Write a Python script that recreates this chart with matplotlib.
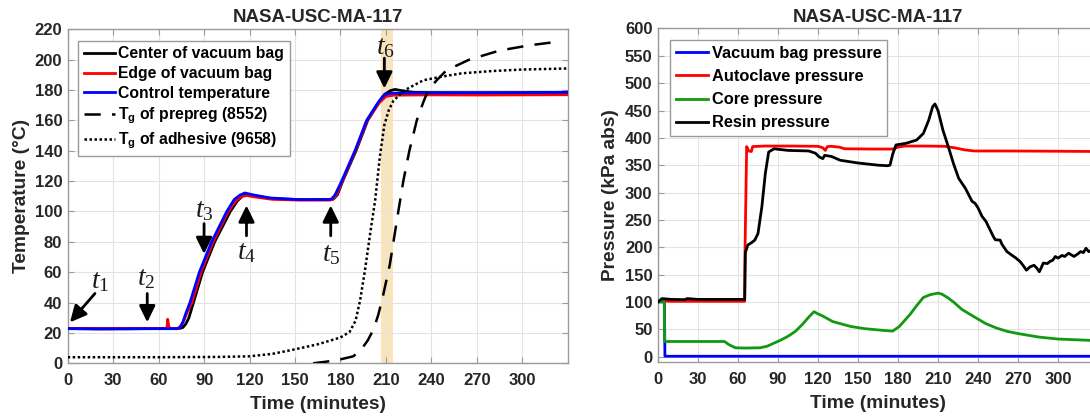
import matplotlib
matplotlib.use('Agg')
import matplotlib.pyplot as plt

# ---------------- data ----------------
title_text = "NASA-USC-MA-117"
xticks = [0, 30, 60, 90, 120, 150, 180, 210, 240, 270, 300]

# Left panel: temperatures (deg C) vs time (min)
control_t = [0, 20, 40, 60, 72, 74, 76, 78, 80.7, 86.9, 95, 105, 110, 113.7, 117, 122, 133.5, 153, 172,
             174.2, 176.5, 180.8, 189.6, 197.3, 205, 208, 210.5, 214, 230, 260, 300, 330]
control_T = [22.8, 22.6, 22.7, 22.8, 22.8, 23.5, 27, 33, 40, 60, 80, 100, 108, 110.8, 112.2, 111, 108.9, 107.8, 107.9,
             108.2, 111, 120, 140, 160, 172, 175.8, 177.4, 177.9, 178.1, 178.2, 178.3, 178.5]

center_t = [0, 20, 40, 60, 74, 76, 78, 80, 83, 89, 97, 107.3, 112, 115.5, 119, 124, 135, 153, 173,
            175.5, 178, 181.5, 190.3, 198, 205.5, 209, 213, 216, 221, 228, 240, 270, 300, 330]
center_T = [23, 22.8, 22.8, 22.9, 23, 23.6, 26, 30, 40, 60, 80, 100, 107, 110.3, 111.3, 110.2, 108.5, 107.8, 107.8,
            108.3, 111, 120, 140, 160, 172, 177, 179.6, 180.4, 179.5, 178.5, 178.3, 178.2, 178.3, 178.5]

edge_t = [0, 20, 40, 60, 65.5, 66, 66.6, 67.3, 73, 75, 77, 79, 82, 88, 96, 106, 111, 114.5, 118, 124, 135, 153, 173,
          175, 177.5, 181.2, 190, 197.7, 205.5, 210, 215, 240, 270, 300, 330]
edge_T = [22.9, 22.7, 22.8, 22.9, 23, 29, 25, 23, 23, 25, 29, 34, 40, 60, 80, 100, 107, 109.8, 110.5, 109.5, 108, 107.5, 107.5,
          108, 111, 120, 140, 160, 171.5, 175.8, 176.6, 176.8, 176.7, 176.8, 176.9]

tg_prepreg_t = [162, 170, 177.5, 188.5, 194, 198, 202, 205, 208, 212.6, 218.2, 221.5, 225.5, 230.4, 234.7, 238,
                243.5, 250, 265, 285, 305, 325]
tg_prepreg_T = [0, 1, 2, 4.6, 9.5, 15, 22.7, 32, 44, 65, 100, 120, 140, 160, 172, 180,
                186.4, 193, 200, 206, 209.5, 212]

tg_adhesive_t = [0, 60, 100, 120, 135, 149, 165, 180, 186, 190, 193, 196, 200, 203, 206, 209, 212, 215,
                 222.6, 234.7, 245.7, 260, 280, 300, 330]
tg_adhesive_T = [4, 4, 4.2, 4.6, 6.2, 9, 12.5, 17, 20.6, 28, 41.5, 60, 88, 108, 136, 157, 167, 173,
                 180, 186.4, 188.6, 191, 192.5, 193.5, 194.2]

cure_band = [206.5, 214.5]

# event markers: label, arrow tail (t, T), arrow tip (t, T), label centre (t, T)
event_labels = ["1", "2", "3", "4", "5", "6"]
event_tail = [(18, 46), (52.5, 46), (90, 92), (118, 84), (173.6, 84), (209, 201)]
event_tip = [(1.5, 27), (52.5, 27), (90, 72), (118, 104), (173.6, 104), (209, 181)]
event_text = [(21.5, 54), (52, 56), (90, 101), (118, 73), (174, 72), (209.5, 208)]

# Right panel: pressures (kPa abs) vs time (min)
vac_t = [0, 4.8, 5.2, 100, 200, 330]
vac_p = [100, 100, 0.5, 0.5, 0.5, 0.5]

auto_t = [3, 10, 30, 50, 65, 65.3, 66.5, 68, 70, 71, 80, 100, 120, 123.5, 125.5, 127, 130, 136, 140, 160, 176,
          180, 185, 200, 215, 222, 230, 237, 260, 300, 330]
auto_p = [101.5, 101, 101, 101, 101, 200, 384, 376, 375, 384, 385, 385, 384.5, 382, 377, 384, 384.5, 383, 380, 379.5, 379.5,
          383, 385, 385, 384.5, 382, 378, 376, 376, 375.5, 375]

core_t = [0, 4.7, 5, 20, 40, 50, 53, 58, 65, 76.6, 82, 87, 92, 97.5, 103, 108, 113, 117, 120, 123.6, 131, 144.5,
          155, 168, 176, 181, 185, 189, 194, 199, 204, 210, 213, 217.7, 222, 228, 238.6, 246, 254, 262, 270, 285.6,
          300, 315, 330]
core_p = [100, 100, 27.5, 27.5, 27.5, 27.5, 22, 16, 15.5, 16, 19, 24.5, 30, 37, 46, 58, 72, 82, 78, 74, 64, 55,
          51, 48, 46.5, 55, 66, 77, 93, 108, 113, 116, 114, 107, 99, 86, 70.5, 60, 52, 46, 42, 35.6,
          32, 30.5, 29]

resin_t = [0, 3, 10, 20, 22, 30, 50, 65, 65.5, 67.4, 70, 72.6, 75, 77.9, 80.5, 83, 87, 97.5, 113, 118, 121, 123.6,
           125, 130, 136.7, 150, 165, 172, 174, 176, 178.5, 186, 194, 199, 203, 206, 207.7, 210, 213.7, 217.7,
           221.6, 225.5, 230.7, 235.5, 237.9, 240, 243, 246, 249, 251.6, 253, 256.6, 258, 261.7, 265, 268, 271.6,
           274, 276.3, 279, 282, 284, 286, 289, 292, 294, 296, 298, 300, 303, 305, 307.9, 310, 312, 315, 317, 319,
           321, 323, 326, 330]
resin_p = [100, 106, 104.5, 104, 106, 104.5, 104.5, 104.5, 190, 204, 208, 213, 225, 274, 335, 374, 380, 377, 376, 372, 365, 362,
           368, 366, 359, 354, 350, 349, 350, 370, 387, 390, 396, 408, 432, 457, 462, 450, 414, 384,
           353, 326, 307, 284, 280, 272, 256.5, 247, 232, 219, 213.6, 213, 205, 192, 186, 181, 173.7,
           166, 158, 164, 167, 162, 155, 171, 170, 174, 176, 183, 180, 185, 183, 189, 186, 183, 188, 192, 190,
           198, 192, 194, 196]

# ---------------- styling ----------------
plt.rcParams['font.family'] = ['Liberation Sans', 'DejaVu Sans']
plt.rcParams['font.weight'] = 'bold'
plt.rcParams['mathtext.fontset'] = 'custom'
plt.rcParams['mathtext.it'] = 'Liberation Serif:italic:normal'
plt.rcParams['mathtext.rm'] = 'Liberation Serif:normal'
plt.rcParams['mathtext.bf'] = 'Liberation Sans:bold'

TXT = '#262626'
SPINE = '#9a9a9a'
GRID = '#e3e3e3'

fig = plt.figure(figsize=(10.9, 4.19), dpi=100)
W, H = 1090.0, 419.0
ax1 = fig.add_axes([67.7 / W, (H - 363.3) / H, 500 / W, 334 / H])
ax2 = fig.add_axes([658 / W, (H - 362) / H, 440 / W, 333.5 / H])


def style(ax):
    ax.grid(True, color=GRID, lw=0.8, zorder=0)
    ax.set_axisbelow(True)
    for s in ax.spines.values():
        s.set_color(SPINE)
        s.set_linewidth(1.0)
    ax.tick_params(direction='in', length=4, width=0.8, color=SPINE, labelcolor=TXT,
                   labelsize=12, top=True, right=True)
    ax.tick_params(axis='x', pad=7)
    ax.tick_params(axis='y', pad=4)
    ax.set_xticks(xticks)
    ax.set_xlim(0, 330)
    ax.set_xlabel("Time (minutes)", fontsize=13.8, fontweight='bold', color=TXT, labelpad=6)
    ax.set_title(title_text, fontsize=13.5, fontweight='bold', color=TXT, pad=5)


# ----- left panel -----
style(ax1)
ax1.set_ylim(0, 220)
ax1.set_yticks(range(0, 221, 20))
ax1.set_ylabel("Temperature (°C)", fontsize=13.8, fontweight='bold', color=TXT, labelpad=3)
ax1.axvspan(cure_band[0], cure_band[1], color='#fbe4b8', lw=0, zorder=0.5)

ax1.plot(center_t, center_T, color='black', lw=2, label='Center of vacuum bag', zorder=3)
ax1.plot(edge_t, edge_T, color='red', lw=2, label='Edge of vacuum bag', zorder=3)
ax1.plot(control_t, control_T, color='blue', lw=2, label='Control temperature', zorder=3)
ax1.plot(tg_prepreg_t, tg_prepreg_T, color='black', lw=1.8, ls=(0, (6.5, 4.5)),
         label=r'T$_{\mathbf{g}}$ of prepreg (8552)', zorder=3)
ax1.plot(tg_adhesive_t, tg_adhesive_T, color='black', lw=1.8, ls=(0, (1, 1)),
         label=r'T$_{\mathbf{g}}$ of adhesive (9658)', zorder=3)

for n, tail, tip, tp in zip(event_labels, event_tail, event_tip, event_text):
    ax1.annotate('', xy=tip, xytext=tail,
                 arrowprops=dict(arrowstyle='-|>,head_length=0.45,head_width=0.22', color='black',
                                 lw=2, mutation_scale=22, shrinkA=0, shrinkB=0), zorder=5)
    ax1.text(tp[0], tp[1], r'$\mathit{t}_{\mathrm{' + n + '}}$', fontsize=20, fontweight='normal',
             ha='center', va='center', color='#1a1a1a', zorder=5)

leg1 = ax1.legend(loc='upper left', bbox_to_anchor=(0.021, 0.965), borderaxespad=0,
                  prop={'size': 11.3, 'weight': 'bold'}, handlelength=2.0, handletextpad=0.2,
                  borderpad=0.35, labelspacing=0.3, fancybox=False, framealpha=1, edgecolor=SPINE)
leg1.get_frame().set_linewidth(1.0)

# ----- right panel -----
style(ax2)
ax2.set_ylim(-10, 600)
ax2.set_yticks(range(0, 601, 50))
ax2.set_ylabel("Pressure (kPa abs)", fontsize=13.8, fontweight='bold', color=TXT, labelpad=4)

ax2.plot(vac_t, vac_p, color='blue', lw=2, label='Vacuum bag pressure', zorder=3)
ax2.plot(auto_t, auto_p, color='red', lw=2, label='Autoclave pressure', zorder=3)
ax2.plot(core_t, core_p, color='#119911', lw=2, label='Core pressure', zorder=3)
ax2.plot(resin_t, resin_p, color='black', lw=2, label='Resin pressure', zorder=3)

leg2 = ax2.legend(loc='upper left', bbox_to_anchor=(0.027, 0.965), borderaxespad=0,
                  prop={'size': 11.8, 'weight': 'bold'}, handlelength=2.0, handletextpad=0.2,
                  borderpad=0.35, labelspacing=0.5, fancybox=False, framealpha=1, edgecolor=SPINE)
leg2.get_frame().set_linewidth(1.0)

fig.savefig('out.png', dpi=100)
